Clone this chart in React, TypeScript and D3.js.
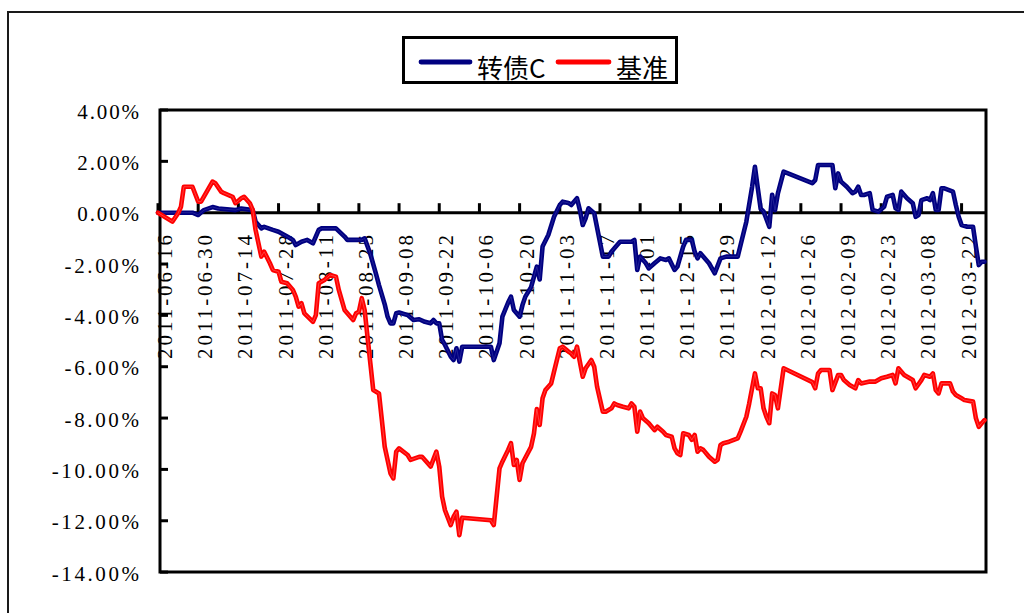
import React from 'react';
import * as d3 from 'd3';

const blueDates = [
  "2011-06-16","2011-06-28","2011-06-30","2011-07-02","2011-07-05","2011-07-07","2011-07-13","2011-07-15","2011-07-19","2011-07-20",
  "2011-07-22","2011-07-23","2011-07-26","2011-07-28","2011-07-31","2011-08-02","2011-08-03","2011-08-05","2011-08-07","2011-08-09",
  "2011-08-11","2011-08-12","2011-08-17","2011-08-20","2011-08-21","2011-08-26","2011-08-27","2011-08-29","2011-08-31","2011-09-01",
  "2011-09-03","2011-09-04","2011-09-05","2011-09-06","2011-09-07","2011-09-08","2011-09-11","2011-09-13","2011-09-15","2011-09-17",
  "2011-09-19","2011-09-20","2011-09-21","2011-09-22","2011-09-23","2011-09-24","2011-09-26","2011-09-27","2011-09-28","2011-09-29",
  "2011-09-30","2011-10-10","2011-10-11","2011-10-13","2011-10-14","2011-10-16","2011-10-17","2011-10-18","2011-10-20","2011-10-21",
  "2011-10-22","2011-10-24","2011-10-25","2011-10-26","2011-10-27","2011-10-28","2011-10-30","2011-11-01","2011-11-03","2011-11-04",
  "2011-11-06","2011-11-07","2011-11-09","2011-11-10","2011-11-11","2011-11-12","2011-11-13","2011-11-15","2011-11-18","2011-11-20",
  "2011-11-21","2011-11-23","2011-11-24","2011-11-28","2011-11-29","2011-11-30","2011-12-01","2011-12-03","2011-12-04","2011-12-06",
  "2011-12-08","2011-12-10","2011-12-11","2011-12-13","2011-12-14","2011-12-16","2011-12-17","2011-12-19","2011-12-20","2011-12-21",
  "2011-12-22","2011-12-25","2011-12-27","2011-12-29","2011-12-31","2012-01-04","2012-01-05","2012-01-07","2012-01-09","2012-01-10",
  "2012-01-11","2012-01-12","2012-01-13","2012-01-15","2012-01-16","2012-01-17","2012-01-18","2012-01-20","2012-01-30","2012-01-31",
  "2012-02-01","2012-02-06","2012-02-07","2012-02-08","2012-02-09","2012-02-11","2012-02-13","2012-02-14","2012-02-15","2012-02-16",
  "2012-02-17","2012-02-19","2012-02-20","2012-02-22","2012-02-24","2012-02-25","2012-02-27","2012-02-28","2012-02-29","2012-03-01",
  "2012-03-03","2012-03-05","2012-03-06","2012-03-07","2012-03-08","2012-03-10","2012-03-11","2012-03-12","2012-03-13","2012-03-14",
  "2012-03-15","2012-03-16","2012-03-19","2012-03-20","2012-03-21","2012-03-22","2012-03-24","2012-03-26","2012-03-27","2012-03-28",
  "2012-03-29","2012-03-30"
];
const blueValues = [
  0.00,0.00,-0.09,0.10,0.22,0.16,0.10,0.16,0.10,-0.35,
  -0.61,-0.55,-0.67,-0.74,-0.93,-1.06,-1.26,-1.13,-1.06,-1.19,
  -0.67,-0.61,-0.61,-0.93,-1.06,-1.06,-1.00,-1.61,-2.40,-2.82,
  -3.57,-4.05,-4.31,-4.31,-3.92,-3.89,-3.99,-4.18,-4.15,-4.25,
  -4.31,-4.18,-4.31,-4.31,-4.96,-5.15,-5.60,-5.74,-5.28,-5.80,
  -5.22,-5.22,-5.74,-5.09,-4.05,-3.50,-3.27,-3.79,-4.05,-3.60,
  -3.27,-2.90,-2.50,-2.10,-2.60,-1.32,-0.87,-0.16,0.30,0.43,
  0.38,0.30,0.56,0.10,-0.48,-0.22,0.17,-0.02,-1.71,-1.71,
  -1.52,-1.26,-1.13,-1.13,-1.06,-2.23,-1.71,-1.97,-2.17,-1.97,
  -1.78,-1.84,-1.78,-2.23,-2.10,-1.32,-1.06,-1.06,-1.52,-1.78,
  -1.58,-1.97,-2.36,-1.78,-1.71,-1.71,-1.26,-0.35,1.00,1.79,
  0.95,0.15,0.05,-0.55,0.70,0.10,0.75,1.60,1.15,1.27,
  1.86,1.86,0.95,1.53,1.21,1.01,0.76,0.82,1.01,0.69,
  0.69,0.76,0.11,0.04,0.23,0.62,0.69,0.17,0.11,0.82,
  0.56,0.37,-0.16,-0.09,0.49,0.56,0.49,0.76,0.11,0.11,
  0.95,0.95,0.82,0.30,-0.16,-0.48,-0.55,-0.55,-1.32,-2.04,
  -1.91,-1.91
];

const redDates = [
  "2011-06-16","2011-06-21","2011-06-23","2011-06-24","2011-06-25","2011-06-28","2011-06-30","2011-07-01","2011-07-03","2011-07-05",
  "2011-07-06","2011-07-08","2011-07-09","2011-07-12","2011-07-13","2011-07-15","2011-07-16","2011-07-18","2011-07-19","2011-07-20",
  "2011-07-22","2011-07-23","2011-07-25","2011-07-26","2011-07-28","2011-07-29","2011-07-31","2011-08-02","2011-08-03","2011-08-04",
  "2011-08-05","2011-08-06","2011-08-09","2011-08-10","2011-08-11","2011-08-13","2011-08-15","2011-08-17","2011-08-18","2011-08-20",
  "2011-08-23","2011-08-24","2011-08-25","2011-08-26","2011-08-27","2011-08-28","2011-08-29","2011-08-30","2011-09-01","2011-09-02",
  "2011-09-03","2011-09-05","2011-09-06","2011-09-07","2011-09-08","2011-09-11","2011-09-12","2011-09-15","2011-09-16","2011-09-18",
  "2011-09-19","2011-09-21","2011-09-22","2011-09-23","2011-09-24","2011-09-26","2011-09-27","2011-09-28","2011-09-29","2011-09-30",
  "2011-10-10","2011-10-11","2011-10-13","2011-10-14","2011-10-16","2011-10-17","2011-10-18","2011-10-19","2011-10-20","2011-10-21",
  "2011-10-24","2011-10-25","2011-10-26","2011-10-27","2011-10-28","2011-10-29","2011-10-31","2011-11-01","2011-11-03","2011-11-04",
  "2011-11-06","2011-11-07","2011-11-08","2011-11-09","2011-11-11","2011-11-12","2011-11-14","2011-11-15","2011-11-16","2011-11-18",
  "2011-11-19","2011-11-21","2011-11-22","2011-11-23","2011-11-25","2011-11-27","2011-11-28","2011-11-29","2011-11-30","2011-12-01",
  "2011-12-02","2011-12-04","2011-12-06","2011-12-07","2011-12-09","2011-12-10","2011-12-12","2011-12-13","2011-12-14","2011-12-15",
  "2011-12-16","2011-12-18","2011-12-19","2011-12-20","2011-12-21","2011-12-22","2011-12-23","2011-12-25","2011-12-27","2011-12-28",
  "2011-12-29","2011-12-30","2012-01-01","2012-01-04","2012-01-05","2012-01-07","2012-01-08","2012-01-10","2012-01-11","2012-01-12",
  "2012-01-13","2012-01-14","2012-01-15","2012-01-16","2012-01-17","2012-01-18","2012-01-20","2012-01-30","2012-01-31","2012-02-01",
  "2012-02-02","2012-02-05","2012-02-06","2012-02-08","2012-02-09","2012-02-10","2012-02-12","2012-02-14","2012-02-15","2012-02-16",
  "2012-02-19","2012-02-21","2012-02-23","2012-02-25","2012-02-27","2012-02-28","2012-02-29","2012-03-02","2012-03-05","2012-03-06",
  "2012-03-08","2012-03-09","2012-03-11","2012-03-12","2012-03-13","2012-03-14","2012-03-15","2012-03-18","2012-03-19","2012-03-20",
  "2012-03-22","2012-03-23","2012-03-26","2012-03-27","2012-03-28","2012-03-29","2012-03-30"
];
const redValues = [
  0.00,-0.35,-0.02,0.23,1.01,1.01,0.43,0.43,0.82,1.21,
  1.15,0.82,0.76,0.62,0.37,0.56,0.62,0.37,0.11,-0.67,
  -1.71,-1.52,-1.97,-2.23,-2.30,-2.69,-2.75,-3.01,-3.27,-3.66,
  -3.53,-3.92,-4.25,-3.99,-2.75,-2.62,-2.43,-2.49,-3.01,-3.79,
  -4.18,-3.92,-3.86,-3.33,-3.79,-4.83,-5.87,-6.91,-7.04,-8.08,
  -9.12,-10.15,-10.35,-9.31,-9.18,-9.44,-9.63,-9.51,-9.51,-9.76,
  -9.89,-9.31,-9.89,-11.06,-11.59,-12.17,-11.84,-11.65,-12.56,-11.88,
  -11.98,-12.17,-9.96,-9.70,-9.24,-8.98,-9.83,-9.63,-10.41,-9.76,
  -9.12,-8.60,-7.65,-8.27,-7.23,-6.91,-6.65,-6.19,-5.28,-5.22,
  -5.41,-5.48,-5.61,-5.22,-6.39,-6.06,-5.74,-6.00,-6.78,-7.75,
  -7.75,-7.62,-7.43,-7.49,-7.56,-7.62,-7.43,-7.56,-8.53,-7.75,
  -8.01,-8.20,-8.47,-8.34,-8.53,-8.66,-8.73,-9.18,-9.37,-9.44,
  -8.59,-8.66,-8.85,-8.66,-9.31,-9.18,-9.24,-9.51,-9.70,-9.63,
  -9.05,-8.98,-8.92,-8.79,-8.53,-7.95,-7.43,-6.26,-6.84,-6.84,
  -7.62,-7.95,-8.20,-7.04,-7.10,-7.62,-6.06,-6.60,-6.84,-6.26,
  -6.13,-6.13,-6.91,-6.32,-6.32,-6.52,-6.71,-6.84,-6.52,-6.65,
  -6.58,-6.58,-6.45,-6.39,-6.32,-6.65,-6.06,-6.32,-6.52,-6.84,
  -6.52,-6.32,-6.39,-6.26,-6.91,-7.04,-6.65,-6.65,-6.97,-7.10,
  -7.23,-7.30,-7.36,-8.01,-8.34,-8.20,-8.08
];

const xTickLabels = [
  "2011-06-16","2011-06-30","2011-07-14","2011-07-28","2011-08-11","2011-08-25","2011-09-08",
  "2011-09-22","2011-10-06","2011-10-20","2011-11-03","2011-11-17","2011-12-01","2011-12-15",
  "2011-12-29","2012-01-12","2012-01-26","2012-02-09","2012-02-23","2012-03-08","2012-03-22"
];
const yTickValues = [4, 2, 0, -2, -4, -6, -8, -10, -12, -14];
const yTickLabels = ["4.00%","2.00%","0.00%","-2.00%","-4.00%","-6.00%","-8.00%","-10.00%","-12.00%","-14.00%"];
const seriesNames = ["转债C", "基准"];
const seriesColors = ["#000080", "#ff0000"];
const seriesCores = ["#3a3aa8", "#ff7070"];
const axisStart = "2011-06-16";
const axisEnd = "2012-03-31";

export default function App() {
  const parse = d3.utcParse("%Y-%m-%d");
  const x = d3.scaleUtc().domain([parse(axisStart)!, parse(axisEnd)!]).range([158, 987.4]);
  const y = d3.scaleLinear().domain([-14, 4]).range([572.1, 110]);
  const L = 160, R = 986, T = 110, B = 572;
  const y0 = y(0);

  const mk = (ds: string[], vs: number[]) => ds.map((d, i) => [parse(d)!, vs[i]] as [Date, number]);
  const series = [mk(blueDates, blueValues), mk(redDates, redValues)];
  const line = d3.line<[Date, number]>().x(d => x(d[0])).y(d => y(d[1]));

  const font = "'Liberation Serif', 'Times New Roman', serif";

  return (
    <svg width={1024} height={613} style={{ position: 'absolute', left: 0, top: 0, display: 'block', background: '#fff' }}>
      <rect x={0} y={0} width={1024} height={613} fill="#fff" />
      {/* outer chart frame */}
      <rect x={8} y={12} width={1030} height={620} fill="none" stroke="#1a1a1a" strokeWidth={2} />

      {/* y tick labels */}
      {yTickValues.map((v, i) => (
        <text key={'yl' + i} x={139} y={y(v) + 8.5} textAnchor="end" fontFamily={font} fontSize={21}
          textLength={yTickLabels[i].length * 12.75 - 2} lengthAdjust="spacing" fill="#000">{yTickLabels[i]}</text>
      ))}

      {/* x tick labels (rotated) */}
      {xTickLabels.map((lab, i) => {
        const xt = x(parse(lab)!);
        return (
          <text key={'xl' + i} transform={`translate(${xt + 14},235) rotate(-90)`} textAnchor="end"
            fontFamily={font} fontSize={21} textLength={124} lengthAdjust="spacing" fill="#000">{lab}</text>
        );
      })}

      {/* plot border */}
      <rect x={L} y={T} width={R - L} height={B - T} fill="none" stroke="#000" strokeWidth={3} />

      {/* y ticks */}
      {yTickValues.map((v, i) => (
        <line key={'yt' + i} x1={L} x2={L + 8} y1={y(v)} y2={y(v)} stroke="#000" strokeWidth={3} />
      ))}

      {/* zero axis with ticks */}
      <line x1={L} x2={R} y1={y0} y2={y0} stroke="#000" strokeWidth={3} />
      {xTickLabels.map((lab, i) => {
        const xt = x(parse(lab)!);
        return <line key={'xt' + i} x1={xt} x2={xt} y1={y0} y2={y0 - 9.5} stroke="#000" strokeWidth={3} />;
      })}

      {/* series */}
      {series.map((s, i) => (
        <g key={'s' + i}>
          <path d={line(s) || ''} fill="none" stroke={seriesColors[i]} strokeWidth={4.6}
            strokeLinejoin="round" strokeLinecap="round" />
          <path d={line(s) || ''} fill="none" stroke={seriesCores[i]} strokeWidth={1} opacity={0.55}
            strokeLinejoin="round" strokeLinecap="round" />
        </g>
      ))}

      {/* legend */}
      <rect x={403.5} y={37.5} width={273} height={45} fill="#fff" stroke="#000" strokeWidth={3} />
      <line x1={421} x2={470} y1={62} y2={62} stroke={seriesColors[0]} strokeWidth={4.8} strokeLinecap="round" />
      <text x={477} y={78} fontFamily="'Noto Sans CJK SC', sans-serif" fontSize={26} fill="#000">{seriesNames[0]}</text>
      <line x1={558} x2={609} y1={62} y2={62} stroke={seriesColors[1]} strokeWidth={4.8} strokeLinecap="round" />
      <text x={616} y={78} fontFamily="'Noto Sans CJK SC', sans-serif" fontSize={26} fill="#000">{seriesNames[1]}</text>
    </svg>
  );
}
